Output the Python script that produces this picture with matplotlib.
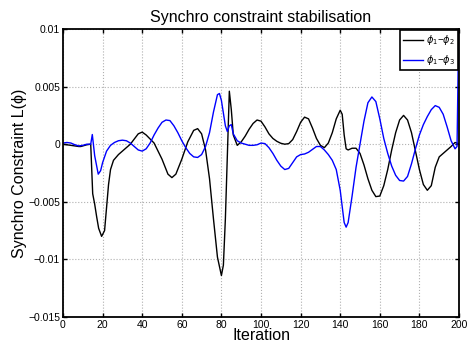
import matplotlib
matplotlib.use("Agg")
import matplotlib.pyplot as plt
from matplotlib.ticker import FixedLocator

plt.rcParams['font.family'] = ['Liberation Sans', 'DejaVu Sans']
plt.rcParams['mathtext.fontset'] = 'dejavusans'

# phi1 - phi2 (values x 1e-3)
x_12 = [0, 2, 4, 6, 8, 9, 10, 12, 14, 15, 16, 17, 18, 19.5, 21, 22, 23, 24, 25.5,
        28, 30, 34, 38, 40, 42, 46, 50, 53, 55, 57, 60, 63, 66, 68, 70, 72, 74, 76,
        78, 80, 81, 82, 83, 84, 85, 86, 88, 90, 92, 94, 96, 98, 100, 102, 104, 106,
        108, 110, 112, 114, 116, 118, 120, 122, 124, 126, 128, 130, 132, 134, 136,
        138, 140, 141, 142, 143, 144, 146, 148, 150, 152, 154, 156, 158, 160, 162,
        164, 166, 168, 170, 172, 174, 176, 178, 180, 182, 184, 186, 188, 190, 192,
        194, 196, 198, 199, 200]
y_12 = [0.0, -0.05, -0.1, -0.15, -0.2, -0.2, -0.15, -0.05, 0.0, -4.3, -5.2, -6.3,
        -7.3, -8.0, -7.5, -5.5, -3.5, -2.2, -1.4, -0.9, -0.6, 0.0, 0.9, 1.05, 0.8,
        0.1, -1.3, -2.6, -2.9, -2.6, -1.3, 0.2, 1.2, 1.35, 0.9, -0.5, -3.0, -6.5,
        -9.8, -11.4, -10.5, -6.5, -1.0, 4.6, 3.0, 0.8, -0.1, 0.2, 0.7, 1.3, 1.8,
        2.1, 2.0, 1.5, 0.9, 0.5, 0.25, 0.08, 0.0, 0.05, 0.4, 1.1, 1.9, 2.35, 2.2,
        1.4, 0.5, -0.1, -0.3, 0.1, 1.0, 2.2, 2.95, 2.6, 0.8, -0.4, -0.5, -0.35,
        -0.35, -0.8, -1.8, -3.0, -4.0, -4.55, -4.5, -3.6, -2.2, -0.5, 1.0, 2.1, 2.5,
        2.1, 1.0, -0.6, -2.2, -3.5, -4.0, -3.6, -2.0, -1.1, -0.8, -0.5, -0.2, 0.15,
        0.1, 0.0]

# phi1 - phi3 (values x 1e-3)
x_13 = [0, 2, 4, 6, 8, 10, 12, 14, 14.8, 16, 17.8, 19, 20, 22, 24, 26, 28, 30, 32,
        34, 36, 38, 40, 42, 44, 46, 48, 50, 52, 54, 56, 58, 60, 62, 64, 66, 68, 70,
        72, 74, 76, 78, 79, 80, 82, 83, 84, 85, 86, 88, 90, 92, 94, 96, 98, 100,
        102, 104, 106, 108, 110, 112, 114, 116, 118, 120, 122, 124, 126, 128, 130,
        132, 134, 136, 138, 140, 142, 143, 144, 146, 148, 150, 152, 154, 156, 158,
        160, 162, 164, 166, 168, 170, 172, 174, 176, 178, 180, 182, 184, 186, 188,
        190, 192, 194, 196, 198, 199, 200]
y_13 = [0.1, 0.15, 0.1, -0.05, -0.15, -0.1, 0.0, 0.0, 0.84, -1.0, -2.6, -2.3, -1.6,
        -0.6, -0.1, 0.15, 0.3, 0.35, 0.3, 0.1, -0.2, -0.5, -0.6, -0.4, 0.1, 0.8,
        1.4, 1.9, 2.1, 2.05, 1.6, 1.0, 0.3, -0.3, -0.8, -1.1, -1.15, -0.9, -0.2,
        1.0, 2.8, 4.3, 4.4, 3.8, 1.6, 1.1, 1.6, 1.7, 0.9, 0.3, 0.1, 0.0, -0.1,
        -0.1, -0.05, 0.1, 0.05, -0.3, -0.8, -1.4, -1.9, -2.2, -2.1, -1.6, -1.1,
        -0.9, -0.85, -0.7, -0.45, -0.2, -0.2, -0.5, -0.9, -1.4, -2.2, -4.0, -6.8,
        -7.2, -6.8, -4.5, -2.0, 0.0, 2.0, 3.6, 4.1, 3.7, 2.2, 0.5, -0.8, -1.9,
        -2.7, -3.15, -3.2, -2.8, -1.7, -0.4, 0.8, 1.7, 2.4, 3.0, 3.35, 3.2, 2.6,
        1.5, 0.3, -0.4, -0.2, 12.0]

labels = [r'$\phi_1$' + '\u2212' + r'$\phi_2$', r'$\phi_1$' + '\u2212' + r'$\phi_3$']
x_ticks = [0, 20, 40, 60, 80, 100, 120, 140, 160, 180, 200]
y_ticks = [-0.015, -0.01, -0.005, 0, 0.005, 0.01]
y_tick_labels = ['\u22120.015', '\u22120.01', '\u22120.005', '0', '0.005', '0.01']

fig = plt.figure(figsize=(4.67, 3.49), dpi=100)
ax = fig.add_axes([0.1349, 0.0917, 0.848, 0.8252])

ax.plot(x_12, [v * 1e-3 for v in y_12], color='black', lw=1.0, label=labels[0])
ax.plot(x_13, [v * 1e-3 for v in y_13], color='blue', lw=1.0, label=labels[1])

ax.set_xlim(0, 200)
ax.set_ylim(-0.015, 0.01)
ax.xaxis.set_major_locator(FixedLocator(x_ticks))
ax.yaxis.set_major_locator(FixedLocator(y_ticks))
ax.set_xticklabels([str(t) for t in x_ticks])
ax.set_yticklabels(y_tick_labels)
ax.tick_params(direction='in', length=3, width=1.0, top=True, right=True,
               labelsize=7.5, pad=2)
ax.grid(True, linestyle=':', color='#b0b0b0', linewidth=0.8)
for s in ax.spines.values():
    s.set_linewidth(1.3)

ax.set_title('Synchro constraint stabilisation', fontsize=11.5, pad=5)
ax.set_xlabel('Iteration', fontsize=11.5, labelpad=-1)
ax.set_ylabel('Synchro Constraint L(\u03d5)', fontsize=11.5, labelpad=1)

leg = ax.legend(loc='upper right', fontsize=7, handlelength=2.0, handletextpad=0.3,
                borderaxespad=0.15, borderpad=0.3, labelspacing=0.6,
                fancybox=False, framealpha=1.0)
leg.get_frame().set_edgecolor('black')
leg.get_frame().set_linewidth(1.2)

fig.savefig('out.png', dpi=100)
